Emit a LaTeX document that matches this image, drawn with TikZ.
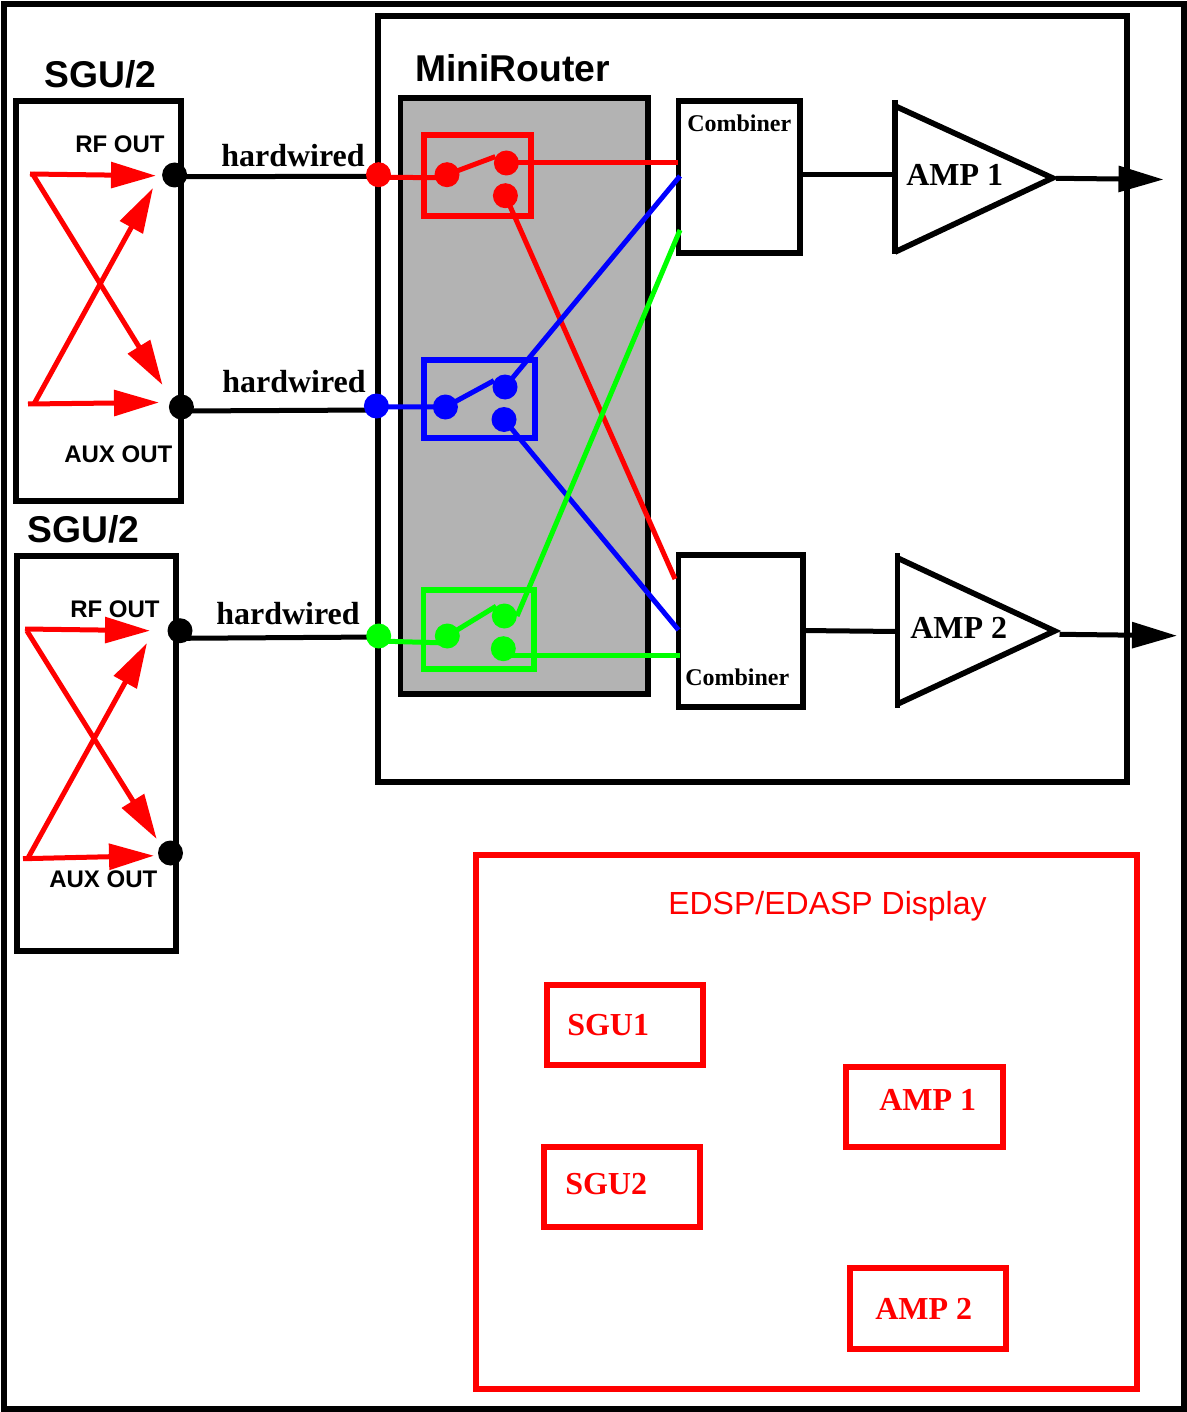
\documentclass[tikz,border=0pt]{standalone}
\usepackage{fontspec}
\setmainfont{Liberation Serif}
\newfontfamily\arialf{Liberation Sans}
\usetikzlibrary{fit,arrows.meta}
\definecolor{rd}{RGB}{255,0,0}
\definecolor{bl}{RGB}{0,0,255}
\definecolor{gn}{RGB}{0,255,0}
\definecolor{gy}{RGB}{179,179,179}
\newcommand{\pxfont}[1]{\pgfmathsetmacro{\fsz}{#1*0.75}\fontsize{\fsz}{\fsz}\selectfont}
\pgfdeclarelayer{fg}
\pgfsetlayers{main,fg}
\tikzset{
  x=0.75pt,y=-0.75pt,
  framebox/.style={draw=black,line width=4.25pt,inner sep=0pt,line join=miter},
  swbox/.style={line width=4pt,inner sep=0pt,fill=none},
  redbox/.style={draw=rd,line width=4pt,inner sep=0pt},
  dot/.style={circle,fill=#1,inner sep=0pt,minimum size=18.75pt},
  sgutitle/.style={inner sep=0pt,font={\arialf\bfseries\pxfont{37.3}},anchor=base west},
  portlabel/.style={inner sep=0pt,font={\arialf\bfseries\pxfont{24}},anchor=base west},
  hw/.style={inner sep=0pt,font={\bfseries\pxfont{32}},anchor=base west},
  comb/.style={inner sep=0pt,font={\bfseries\pxfont{24}},anchor=base west},
  amplabel/.style={inner sep=0pt,font={\bfseries\pxfont{32}},anchor=base west},
  redlabel/.style={inner sep=0pt,text=rd,font={\bfseries\pxfont{32}},anchor=base west},
  wire/.style={line width=3.75pt,draw=#1},
  xarrow/.style={line width=3.75pt,draw=rd,-{Triangle[length=33.75pt,width=19pt]}},
  outarrow/.style={line width=3.75pt,draw=black,-{Triangle[length=33.75pt,width=19pt]}},
  amp/.style={line width=4.25pt,draw=black,fill=none,line join=miter}
}
\begin{document}
\begin{tikzpicture}
\useasboundingbox (0,0) rectangle (1187,1412);
\node[framebox,fit={(4,4)(1184,1409)}] (outer) {};
\node[framebox,fit={(378,16)(1127,782)}] (router) {};
\node[framebox,fill=gy,fit={(400.5,98)(648,694)}] (gray) {};
\node[framebox,fit={(16,101)(181,501)}] (sguA) {};
\node[framebox,fit={(17,556)(176,951)}] (sguB) {};
\node[framebox,fit={(678.5,101)(800,253)}] (combA) {};
\node[framebox,fit={(678.5,555)(803,707)}] (combB) {};
% titles
\node[sgutitle] (tA) at (44,88) {SGU/2};
\node[sgutitle] (tB) at (27,542) {SGU/2};
\node[sgutitle] (tR) at (415,82) {MiniRouter};
\node[portlabel] (rfA) at (75,153) {RF OUT};
\node[portlabel] (auxA) at (64,462) {AUX OUT};
\node[portlabel] (rfB) at (70,617) {RF OUT};
\node[portlabel] (auxB) at (49,887) {AUX OUT};
\node[hw] (h1) at (221,167) {hardwired};
\node[hw] (h2) at (222,392) {hardwired};
\node[hw] (h3) at (216,624) {hardwired};
\node[comb] (c1) at (687,132) {Combiner};
\node[comb] (c2) at (685,685) {Combiner};
% amplifiers
\draw[amp] (895,100) coordinate (a1t) -- (895,254) coordinate (a1b);
\draw[amp] (895,106) -- (1052.5,178) coordinate (a1v) -- (895,252);
\coordinate (a1o) at (1056,178.3);
\draw[amp] (897.5,553) coordinate (a2t) -- (897.5,708) coordinate (a2b);
\draw[amp] (897.5,558) -- (1054.5,631) coordinate (a2v) -- (897.5,704);
\node[amplabel] (l1) at (906,186) {AMP 1};
\node[amplabel] (l2) at (910,638) {AMP 2};
% end points
\coordinate (oA) at (1163.5,179.5);
\coordinate (oB) at (1177,635.7);
\coordinate (c1out) at (800,174.7);
\coordinate (a1in) at (895,174.7);
\coordinate (c2out) at (803,630.5);
\coordinate (a2in) at (897,631.5);
\coordinate (a2start) at (1059.5,634.3);
\coordinate (c1r) at (678,163);
\coordinate (c1b) at (680,176);
\coordinate (c1g) at (680,230);
\coordinate (c2r) at (675,579);
\coordinate (c2b) at (678.5,630);
\coordinate (c2g) at (680,655);
\coordinate (wA) at (175,176.7);
\coordinate (wAe) at (378,176.3);
\coordinate (wB) at (182,411);
\coordinate (wBe) at (376,410);
\coordinate (wC) at (182,638.3);
\coordinate (wCe) at (378,637);
\coordinate (wr0) at (378,177.3);
\coordinate (wr1) at (447,177.7);
\coordinate (wb0) at (376,406.7);
\coordinate (wb1) at (445.4,407);
\coordinate (wg0) at (378,641);
\coordinate (wg1) at (447,643);
\coordinate (wg3) at (503.3,655);
% dots
\begin{pgfonlayer}{fg}
\node[dot=black] (pA) at (174.6,175) {};
\node[dot=black] (pB) at (181.4,407) {};
\node[dot=black] (pC) at (180,630.7) {};
\node[dot=black] (pD) at (170.5,853) {};
\node[dot=rd] (r0) at (378.5,174.7) {};
\node[dot=rd] (r1) at (447,174.7) {};
\node[dot=rd] (r2) at (506.4,163) {};
\node[dot=rd] (r3) at (505.4,195.7) {};
\node[dot=bl] (b0) at (376.4,406) {};
\node[dot=bl] (b1) at (445.4,407) {};
\node[dot=bl] (b2) at (505,387) {};
\node[dot=bl] (b3) at (504,419.5) {};
\node[dot=gn] (g0) at (378.7,636) {};
\node[dot=gn] (g1) at (447.3,636) {};
\node[dot=gn] (g2) at (504.3,616) {};
\node[dot=gn] (g3) at (503.3,648.7) {};
\end{pgfonlayer}
% switch frames
\node[swbox,draw=rd,fit={(424,135)(531,216)}] (swR) {};
\node[swbox,draw=bl,fit={(424,360)(535,438)}] (swB) {};
\node[swbox,draw=gn,fit={(423.5,590)(534,669)}] (swG) {};
% black wires
\draw[wire=black] (wA) -- (wAe);
\draw[wire=black] (wB) -- (wBe);
\draw[wire=black] (wC) -- (wCe);
\draw[wire=black] (c1out) -- (a1in);
\draw[wire=black] (c2out) -- (a2in);
\draw[outarrow] (a1o) -- (oA);
\draw[outarrow] (a2start) -- (oB);
% coloured wires
\draw[wire=rd] (wr0) -- (wr1);
\draw[wire=rd] (r1.center) -- (r2.150);
\draw[wire=rd] (r2.center) -- (c1r);
\draw[wire=rd] (r3.center) -- (c2r);
\draw[wire=bl] (wb0) -- (wb1);
\draw[wire=bl] (b1.center) -- (b2.150);
\draw[wire=bl] (b2.center) -- (c1b);
\draw[wire=bl] (b3.center) -- (c2b);
\draw[wire=gn] (wg0) -- (wg1);
\draw[wire=gn] (g1.center) -- (g2.130);
\draw[wire=gn] (g2.east) -- (c1g);
\draw[wire=gn] (wg3) -- (c2g);
% cross arrows A
\coordinate (xa1) at (30,174);
\coordinate (xa2) at (156,175.7);
\coordinate (xa3) at (162.5,385);
\coordinate (xa4) at (28,404);
\coordinate (xa5) at (159,402.5);
\coordinate (xa6) at (153,188);
\coordinate (xa7) at (32,173);
\coordinate (xa8) at (34,404);
\draw[xarrow] (xa1) -- (xa2);
\draw[xarrow] (xa7) -- (xa3);
\draw[xarrow] (xa4) -- (xa5);
\draw[xarrow] (xa8) -- (xa6);
% cross arrows B
\coordinate (xb1) at (25,629);
\coordinate (xb2) at (150,630.7);
\coordinate (xb3) at (156.7,839);
\coordinate (xb4) at (23,858.7);
\coordinate (xb5) at (154,855.7);
\coordinate (xb6) at (147,643);
\coordinate (xb7) at (27,631);
\coordinate (xb8) at (28,858);
\draw[xarrow] (xb1) -- (xb2);
\draw[xarrow] (xb7) -- (xb3);
\draw[xarrow] (xb4) -- (xb5);
\draw[xarrow] (xb8) -- (xb6);
% display
\node[redbox,fit={(476,855)(1137,1389)}] (disp) {};
\node[inner sep=0pt,text=rd,font={\arialf\pxfont{32}},anchor=base west] (dt) at (668,914) {EDSP/EDASP Display};
\node[redbox,fit={(547,985)(703,1065)}] (bS1) {};
\node[redbox,fit={(846,1067)(1003,1147)}] (bA1) {};
\node[redbox,fit={(544,1147)(700,1227)}] (bS2) {};
\node[redbox,fit={(850,1268)(1006,1349)}] (bA2) {};
\node[redlabel] (tS1) at (567,1035) {SGU1};
\node[redlabel] (tA1) at (879,1110) {AMP 1};
\node[redlabel] (tS2) at (565,1194) {SGU2};
\node[redlabel] (tA2) at (875,1319) {AMP 2};
\end{tikzpicture}
\end{document}
